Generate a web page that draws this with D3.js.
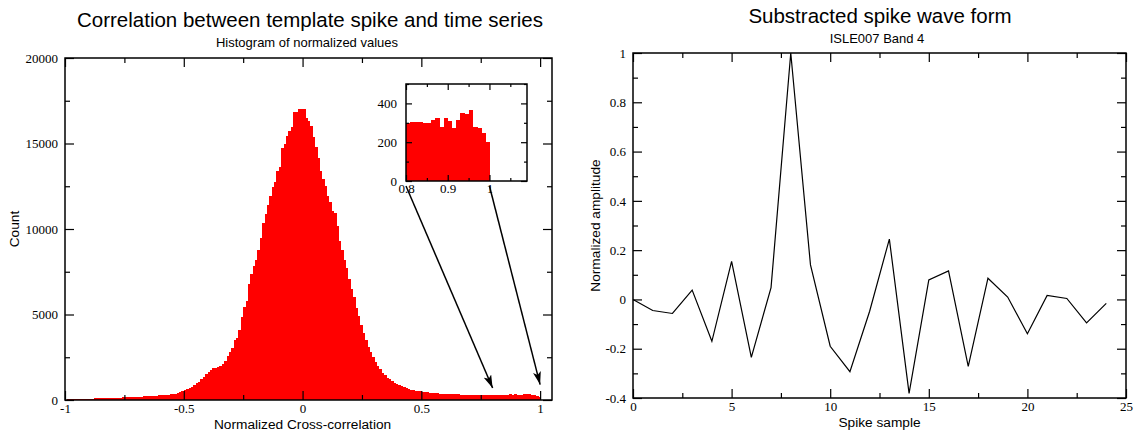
<!DOCTYPE html>
<html>
<head>
<meta charset="utf-8">
<script src="https://cdn.jsdelivr.net/npm/d3@7"></script>
<style>
  html, body { margin: 0; padding: 0; background: #fff; }
  svg { display: block; }
</style>
</head>
<body>
<script>
// ---------------- DATA ----------------
// Histogram: bins of width 0.01 starting at -1.00
const binStart = -1.0;
const binWidth = 0.01;
const counts = [
  20, 30, 35, 40, 40, 45, 50, 55, 60, 60,
  70, 80, 90, 95, 100, 105, 110, 115, 115, 120,
  125, 130, 140, 145, 150, 160, 165, 170, 180, 185,
  190, 195, 200, 210, 215, 225, 235, 245, 255, 265,
  275, 290, 300, 320, 340, 360, 380, 400, 450, 520,
  580, 640, 700, 780, 900, 1000, 1070, 1200, 1360, 1500,
  1610, 1750, 1880, 1900, 1950, 2000, 2100, 2270, 2580, 2820,
  3070, 3500, 3600, 4120, 4860, 5440, 5770, 6800, 7390, 7830,
  8200, 8750, 9490, 10340, 10890, 11410, 11910, 12480, 12770, 13390,
  13640, 14710, 14970, 15450, 15740, 15980, 16850, 16850, 17040, 17040,
  17040, 16480, 16290, 16000, 15360, 14770, 14150, 13410, 12930, 12500,
  11950, 11600, 11060, 10940, 10200, 9290, 8750, 8200, 7700, 7100,
  6500, 6000, 5400, 4900, 4400, 3900, 3500, 3100, 2800, 2500,
  2200, 2000, 1800, 1600, 1450, 1300, 1200, 1100, 1000, 920,
  850, 790, 740, 690, 650, 610, 580, 550, 520, 500,
  470, 450, 440, 420, 410, 400, 390, 380, 370, 360,
  355, 350, 340, 335, 330, 330, 320, 315, 320, 310,
  305, 300, 310, 295, 300, 290, 295, 300, 290, 295,
  300, 304, 304, 306, 297, 300, 314, 326, 280, 326,
  307, 271, 314, 349, 344, 366, 280, 271, 246, 203
];

// Spike wave form
const sampleIndex = [0,1,2,3,4,5,6,7,8,9,10,11,12,13,14,15,16,17,18,19,20,21,22,23,24];
const amplitude = [0.0, -0.045, -0.057, 0.038, -0.17, 0.154, -0.235, 0.048, 1.0, 0.14,
  -0.19, -0.293, -0.048, 0.245, -0.381, 0.079, 0.116, -0.272, 0.086, 0.0095,
  -0.139, 0.016, 0.004, -0.095, -0.016];

// Tick values
const histXMajor = [-1, -0.5, 0, 0.5, 1];
const histXMinor = [-0.75, -0.25, 0.25, 0.75];
const histYMajor = [0, 5000, 10000, 15000, 20000];
const histYMinor = [2500, 7500, 12500, 17500];
const insetXMajor = [0.8, 0.9, 1];
const insetXMinor = [0.85, 0.95, 1.05];
const insetYMajor = [0, 200, 400];
const insetYMinor = [100, 300, 500];
const waveXMajor = [0, 5, 10, 15, 20, 25];
const waveXMinor = [2.5, 7.5, 12.5, 17.5, 22.5];
const waveYMajor = [-0.4, -0.2, 0, 0.2, 0.4, 0.6, 0.8, 1];
const waveYMinor = [-0.3, -0.1, 0.1, 0.3, 0.5, 0.7, 0.9];

// Annotation arrows (inset -> main histogram), in data units
const arrowFrom = [0.8, 1.0];   // inset x positions (at count 0)
const arrowToCount = [700, 900]; // main histogram count at arrow tip

// Texts
const leftTitle = "Correlation between template spike and time series";
const leftSubtitle = "Histogram of normalized values";
const leftXLabel = "Normalized Cross-correlation";
const leftYLabel = "Count";
const rightTitle = "Substracted spike wave form";
const rightSubtitle = "ISLE007 Band 4";
const rightXLabel = "Spike sample";
const rightYLabel = "Normalized amplitude";

// ---------------- DRAWING ----------------
const W = 1143, H = 435;
const svg = d3.select("body").append("svg").attr("width", W).attr("height", H);
const defs = svg.append("defs");
defs.append("marker")
  .attr("id", "arrowhead")
  .attr("markerUnits", "userSpaceOnUse")
  .attr("markerWidth", 14).attr("markerHeight", 8)
  .attr("refX", 13).attr("refY", 4)
  .attr("orient", "auto")
  .append("path").attr("d", "M0,0 L13,4 L0,8 L3,4 Z").attr("fill", "#000");

const SANS = "'Liberation Sans', Arial, Helvetica, sans-serif";
const SERIF = "'Liberation Serif', 'Times New Roman', serif";

const fmt = v => String(v);

function drawFrameAxes(g, x, y, opt) {
  const [x0, x1] = x.range();
  const [y1, y0] = y.range();
  const M = opt.major, m = opt.minor;
  // bottom
  g.append("g").attr("transform", `translate(0,${y1})`)
    .call(d3.axisBottom(x).tickValues(opt.xMajor).tickSize(-M).tickPadding(opt.padX).tickFormat(fmt));
  g.append("g").attr("transform", `translate(0,${y1})`)
    .call(d3.axisBottom(x).tickValues(opt.xMinor).tickSize(-m).tickFormat(""));
  // top
  g.append("g").attr("transform", `translate(0,${y0})`)
    .call(d3.axisTop(x).tickValues(opt.xMajor).tickSize(-M).tickFormat(""));
  g.append("g").attr("transform", `translate(0,${y0})`)
    .call(d3.axisTop(x).tickValues(opt.xMinor).tickSize(-m).tickFormat(""));
  // left
  g.append("g").attr("transform", `translate(${x0},0)`)
    .call(d3.axisLeft(y).tickValues(opt.yMajor).tickSize(-M).tickPadding(opt.padY).tickFormat(fmt));
  g.append("g").attr("transform", `translate(${x0},0)`)
    .call(d3.axisLeft(y).tickValues(opt.yMinor).tickSize(-m).tickFormat(""));
  // right
  g.append("g").attr("transform", `translate(${x1},0)`)
    .call(d3.axisRight(y).tickValues(opt.yMajor).tickSize(-M).tickFormat(""));
  g.append("g").attr("transform", `translate(${x1},0)`)
    .call(d3.axisRight(y).tickValues(opt.yMinor).tickSize(-m).tickFormat(""));
  g.selectAll(".domain").remove();
  g.selectAll(".tick line").attr("stroke", "#000").attr("stroke-width", 1.2);
  g.selectAll(".tick text").attr("font-family", SERIF).attr("font-size", opt.fontSize).attr("fill", "#000");
  g.append("rect").attr("x", x0).attr("y", y0).attr("width", x1 - x0).attr("height", y1 - y0)
    .attr("fill", "none").attr("stroke", "#000").attr("stroke-width", 1.5);
}

// ---- Left: histogram ----
const xMain = d3.scaleLinear().domain([-1, 1.05]).range([65, 552]);
const yMain = d3.scaleLinear().domain([0, 20000]).range([400, 58]);
const gL = svg.append("g");

const bins = counts.map((c, i) => ({ x0: binStart + i * binWidth, x1: binStart + (i + 1) * binWidth, c }));

gL.append("g").attr("shape-rendering", "crispEdges").selectAll("rect").data(bins).join("rect")
  .attr("x", d => xMain(d.x0))
  .attr("width", d => xMain(d.x1) - xMain(d.x0) + 0.8)
  .attr("y", d => yMain(d.c))
  .attr("height", d => yMain(0) - yMain(d.c))
  .attr("fill", "#ff0000");

drawFrameAxes(gL, xMain, yMain, {
  xMajor: histXMajor, xMinor: histXMinor, yMajor: histYMajor, yMinor: histYMinor,
  major: 9, minor: 5, padX: 4, padY: 7, fontSize: "13px"
});

// titles & labels
svg.append("text").attr("x", 310).attr("y", 27).attr("text-anchor", "middle")
  .attr("font-family", SANS).attr("font-size", "20.5px").text(leftTitle);
svg.append("text").attr("x", 307).attr("y", 47).attr("text-anchor", "middle")
  .attr("font-family", SANS).attr("font-size", "13px").text(leftSubtitle);
svg.append("text").attr("x", xMain(0)).attr("y", 429).attr("text-anchor", "middle")
  .attr("font-family", SANS).attr("font-size", "13.7px").text(leftXLabel);
svg.append("text").attr("transform", `translate(19,${(yMain(0) + yMain(20000)) / 2}) rotate(-90)`)
  .attr("text-anchor", "middle").attr("font-family", SANS).attr("font-size", "13.7px").text(leftYLabel);

// ---- Inset ----
const xIn = d3.scaleLinear().domain([0.8, 1.09]).range([406, 527]);
const yIn = d3.scaleLinear().domain([0, 500]).range([181, 84]);
const gI = svg.append("g");
gI.append("rect").attr("x", 406).attr("y", 84).attr("width", 121).attr("height", 97).attr("fill", "#fff");
const insetBins = bins.filter(d => d.x0 >= 0.8 - 1e-9 && d.x1 <= 1.0 + 1e-9);
gI.append("g").attr("shape-rendering", "crispEdges").selectAll("rect").data(insetBins).join("rect")
  .attr("x", d => xIn(d.x0))
  .attr("width", d => xIn(d.x1) - xIn(d.x0) + 0.6)
  .attr("y", d => yIn(d.c))
  .attr("height", d => yIn(0) - yIn(d.c))
  .attr("fill", "#ff0000");
drawFrameAxes(gI, xIn, yIn, {
  xMajor: insetXMajor, xMinor: insetXMinor, yMajor: insetYMajor, yMinor: insetYMinor,
  major: 6, minor: 3, padX: 3, padY: 9, fontSize: "13px"
});

// ---- Arrows ----
arrowFrom.forEach((v, i) => {
  svg.append("line")
    .attr("x1", xIn(v)).attr("y1", yIn(0) + 5)
    .attr("x2", xMain(v)).attr("y2", yMain(arrowToCount[i]))
    .attr("stroke", "#000").attr("stroke-width", 1.5)
    .attr("marker-end", "url(#arrowhead)");
});

// ---- Right: spike waveform ----
const xR = d3.scaleLinear().domain([0, 25]).range([633, 1126]);
const yR = d3.scaleLinear().domain([-0.4, 1]).range([398, 53]);
const gR = svg.append("g");
const line = d3.line().x((d, i) => xR(sampleIndex[i])).y(d => yR(d));
gR.append("path").datum(amplitude).attr("d", line)
  .attr("fill", "none").attr("stroke", "#000").attr("stroke-width", 1.2).attr("stroke-linejoin", "miter");

drawFrameAxes(gR, xR, yR, {
  xMajor: waveXMajor, xMinor: waveXMinor, yMajor: waveYMajor, yMinor: waveYMinor,
  major: 9, minor: 5, padX: 4, padY: 7, fontSize: "13px"
});

svg.append("text").attr("x", 880).attr("y", 23).attr("text-anchor", "middle")
  .attr("font-family", SANS).attr("font-size", "20.5px").text(rightTitle);
svg.append("text").attr("x", 877).attr("y", 43).attr("text-anchor", "middle")
  .attr("font-family", SANS).attr("font-size", "13px").text(rightSubtitle);
svg.append("text").attr("x", xR(12.5)).attr("y", 427).attr("text-anchor", "middle")
  .attr("font-family", SANS).attr("font-size", "13.7px").text(rightXLabel);
svg.append("text").attr("transform", `translate(600,${(yR(-0.4) + yR(1)) / 2}) rotate(-90)`)
  .attr("text-anchor", "middle").attr("font-family", SANS).attr("font-size", "13.7px").text(rightYLabel);
</script>
</body>
</html>
